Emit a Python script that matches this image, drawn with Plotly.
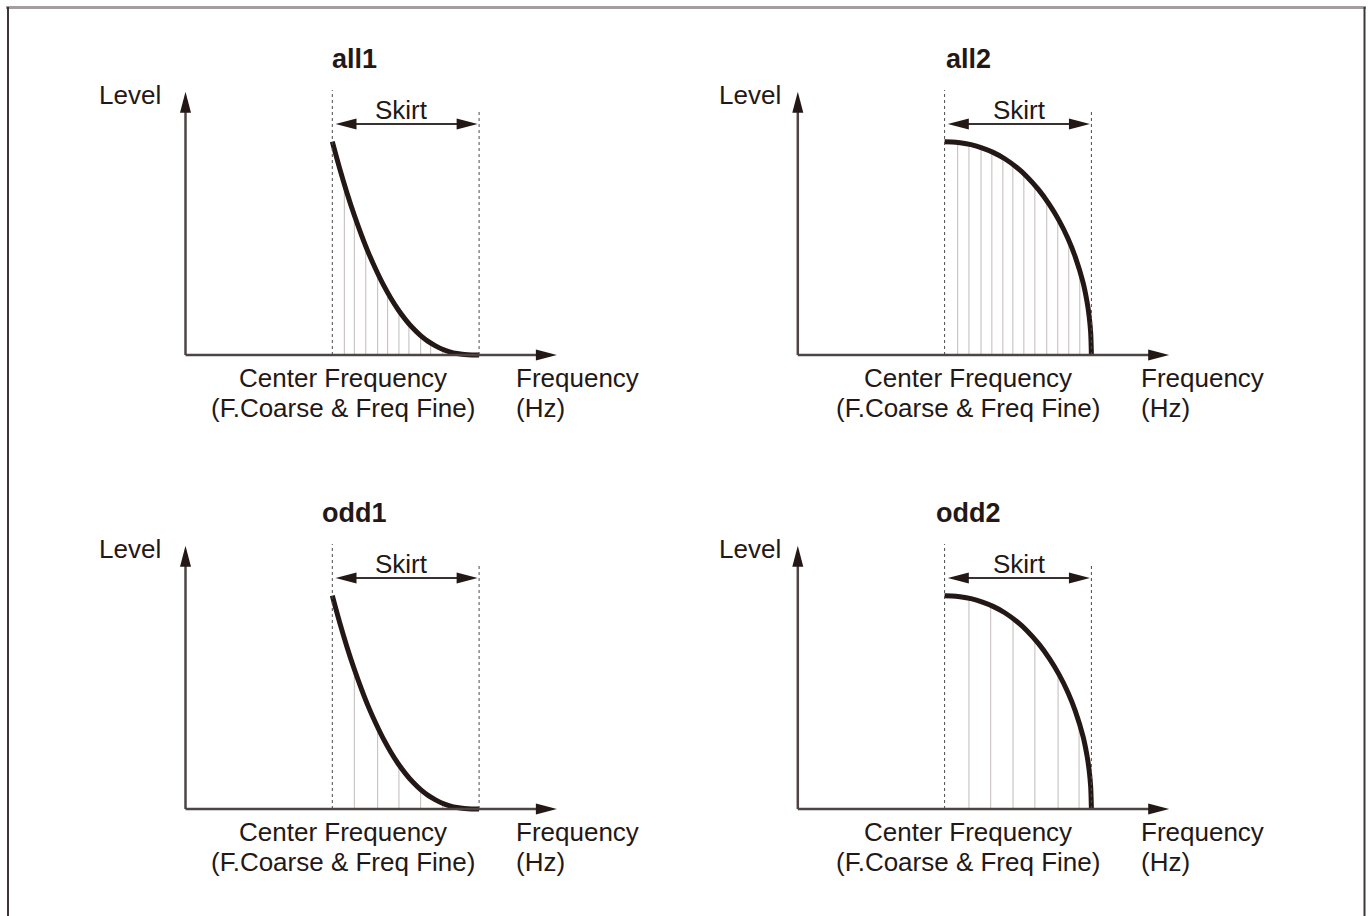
import plotly.graph_objects as go

# panel names, in reading order
panel_names = ['all1', 'all2', 'odd1', 'odd2']

# frequency axis: 0 = start, 1 = center frequency, 2 = end of skirt
# level axis: 0 = floor, 1 = level at the center frequency
decay_x = [1.0, 1.05, 1.1, 1.15, 1.2, 1.25, 1.3, 1.35, 1.4, 1.45, 1.5, 1.55, 1.6, 1.65,
           1.7, 1.75, 1.8, 1.85, 1.9, 1.95, 2.0]
decay_level = [1.0, 0.875, 0.76, 0.655, 0.56, 0.473, 0.396, 0.326, 0.265, 0.211, 0.165,
               0.125, 0.092, 0.065, 0.044, 0.027, 0.015, 0.007, 0.0025, 0.0004, 0.0]

round_x = [1.0, 1.05, 1.105, 1.18, 1.258, 1.33, 1.41, 1.49, 1.561, 1.64, 1.714, 1.78, 1.841,
           1.89, 1.943, 1.97, 1.985, 1.995, 2.0]
round_level = [1.0, 0.999, 0.995, 0.986, 0.970, 0.950, 0.920, 0.880, 0.836, 0.775, 0.705,
               0.630, 0.545, 0.46, 0.34, 0.25, 0.18, 0.105, 0.0]

# harmonic lines under the curve
all1_lines_x = [1.082, 1.150, 1.228, 1.309, 1.377, 1.454, 1.522, 1.602, 1.670, 1.752, 1.83, 1.91]
all1_lines_level = [0.80, 0.655, 0.51, 0.383, 0.292, 0.207, 0.147, 0.091, 0.056, 0.027, 0.01, 0.002]
odd1_lines_x = [1.150, 1.309, 1.454, 1.602, 1.752, 1.90]
odd1_lines_level = [0.655, 0.383, 0.207, 0.091, 0.027, 0.0025]
all2_lines_x = [1.089, 1.166, 1.248, 1.322, 1.397, 1.465, 1.540, 1.615, 1.696, 1.771, 1.846, 1.921]
all2_lines_level = [0.996, 0.988, 0.973, 0.953, 0.925, 0.893, 0.85, 0.80, 0.725, 0.64, 0.53, 0.37]
odd2_lines_x = [1.166, 1.314, 1.466, 1.615, 1.773, 1.916]
odd2_lines_level = [0.988, 0.955, 0.893, 0.80, 0.638, 0.38]

# text labels
level_label = 'Level'
skirt_label = 'Skirt'
center_lines = ['Center Frequency', '(F.Coarse & Freq Fine)']
freq_lines = ['Frequency', '(Hz)']

curves = {
    'all1': (decay_x, decay_level, all1_lines_x, all1_lines_level),
    'all2': (round_x, round_level, all2_lines_x, all2_lines_level),
    'odd1': (decay_x, decay_level, odd1_lines_x, odd1_lines_level),
    'odd2': (round_x, round_level, odd2_lines_x, odd2_lines_level),
}

W, H = 1372, 916
FONT = 'Liberation Sans, Arial, Helvetica, sans-serif'
INK = '#231815'
AXIS = '#4e4444'

# pixel placement of each panel origin (y axis x-position, floor y-position)
origins = [(185.5, 355), (797.8, 355), (185.5, 809), (797.8, 809)]
px_x = 146.8   # pixels per frequency unit
px_y = 213.3   # pixels per level unit
x_range = [-0.6, 3.4]
y_range = [-0.45, 1.5]

fig = go.Figure()
shapes = []
annotations = []


def arrow_head(xref, yref, x, y, direction):
    # narrow filled triangle, tip at (x, y), sized in pixels
    L, w = 21, 5.5
    paths = {
        'up': f'M0,0 L{-w},{-L} L{w},{-L} Z',
        'right': f'M0,0 L{-L},{w} L{-L},{-w} Z',
        'left': f'M0,0 L{L},{w} L{L},{-w} Z',
    }
    return dict(type='path', xref=xref, yref=yref, xsizemode='pixel', ysizemode='pixel',
                xanchor=x, yanchor=y, path=paths[direction],
                fillcolor=INK, line=dict(width=0))


for i, name in enumerate(panel_names):
    n = '' if i == 0 else str(i + 1)
    xref, yref = 'x' + n, 'y' + n
    ox, oy = origins[i]
    x0 = ox + x_range[0] * px_x
    x1 = ox + x_range[1] * px_x
    ytop = oy - y_range[1] * px_y
    ybot = oy - y_range[0] * px_y
    fig.update_layout({
        'xaxis' + n: dict(domain=[x0 / W, x1 / W], range=x_range, visible=False,
                          anchor=yref, fixedrange=True),
        'yaxis' + n: dict(domain=[1 - ybot / H, 1 - ytop / H], range=y_range, visible=False,
                          anchor=xref, fixedrange=True),
    })
    right_col = i % 2 == 1

    cx, cy, hx, hy = curves[name]

    # harmonic lines
    lx, ly = [], []
    for a, b in zip(hx, hy):
        lx += [a, a, None]
        ly += [0, b, None]
    fig.add_trace(go.Scatter(x=lx, y=ly, mode='lines', xaxis=xref, yaxis=yref,
                             line=dict(color='#c2baba', width=1), hoverinfo='skip',
                             showlegend=False))

    # dotted markers at center and skirt end
    shapes.append(dict(type='line', xref=xref, yref=yref, x0=1, x1=1, y0=0, y1=1.242,
                       line=dict(color='#4a4a4a', width=1, dash='dot')))
    shapes.append(dict(type='line', xref=xref, yref=yref, x0=2, x1=2, y0=0, y1=1.144,
                       line=dict(color='#4a4a4a', width=1, dash='dot')))

    # axes
    shapes.append(dict(type='line', xref=xref, yref=yref, x0=0, x1=2.45, y0=0, y1=0,
                       line=dict(color=AXIS, width=2.5)))
    shapes.append(dict(type='line', xref=xref, yref=yref, x0=0, x1=0, y0=0, y1=1.19,
                       line=dict(color=AXIS, width=2.5)))
    shapes.append(arrow_head(xref, yref, 0, 1.234, 'up'))
    shapes.append(arrow_head(xref, yref, 2.53, 0, 'right'))

    # skirt arrow
    shapes.append(dict(type='line', xref=xref, yref=yref, x0=1.08, x1=1.93, y0=1.083,
                       y1=1.083, line=dict(color='#3a3030', width=2)))
    shapes.append(arrow_head(xref, yref, 1.022, 1.083, 'left'))
    shapes.append(arrow_head(xref, yref, 1.99, 1.083, 'right'))

    # response curve
    fig.add_trace(go.Scatter(x=cx, y=cy, mode='lines', xaxis=xref, yaxis=yref,
                             line=dict(color=INK, width=5, shape='spline', smoothing=0.8),
                             hoverinfo='skip', showlegend=False))

    txt = dict(xref=xref, yref=yref, showarrow=False, font=dict(family=FONT, size=26, color=INK))
    shift = 1 if right_col else 0
    annotations.append(dict(txt, x=1.15, y=1.388, text='<b>' + name + '</b>',
                            font=dict(family=FONT, size=27, color=INK), xshift=2 * shift))
    annotations.append(dict(txt, x=-0.375, y=1.22, text=level_label, xshift=7 * shift))
    annotations.append(dict(txt, x=1.473, y=1.15, text=skirt_label, xshift=5 * shift))
    for k, lvl in enumerate([-0.108, -0.248]):
        annotations.append(dict(txt, x=1.075, y=lvl, text=center_lines[k], xshift=12 * shift))
        annotations.append(dict(txt, x=2.24, y=lvl, text=freq_lines[k], xanchor='left',
                                xshift=12 * shift))

# outer frame (bottom edge runs off the page)
shapes.append(dict(type='line', xref='paper', yref='paper', x0=6 / W, x1=1366 / W,
                   y0=1 - 7.5 / H, y1=1 - 7.5 / H, line=dict(color='#a49d9d', width=3)))
shapes.append(dict(type='line', xref='paper', yref='paper', x0=8 / W, x1=8 / W,
                   y0=1 - 7 / H, y1=-0.05, line=dict(color='#3e3636', width=2)))
shapes.append(dict(type='line', xref='paper', yref='paper', x0=1364.5 / W, x1=1364.5 / W,
                   y0=1 - 7 / H, y1=-0.05, line=dict(color='#3e3636', width=2)))

fig.update_layout(
    width=W, height=H,
    margin=dict(l=0, r=0, t=0, b=0),
    paper_bgcolor='white', plot_bgcolor='rgba(0,0,0,0)',
    showlegend=False,
    shapes=shapes, annotations=annotations,
)

fig.write_html('out.html', config={'displayModeBar': False},
               post_script="document.body.style.margin='0';document.body.style.overflow='hidden';")
